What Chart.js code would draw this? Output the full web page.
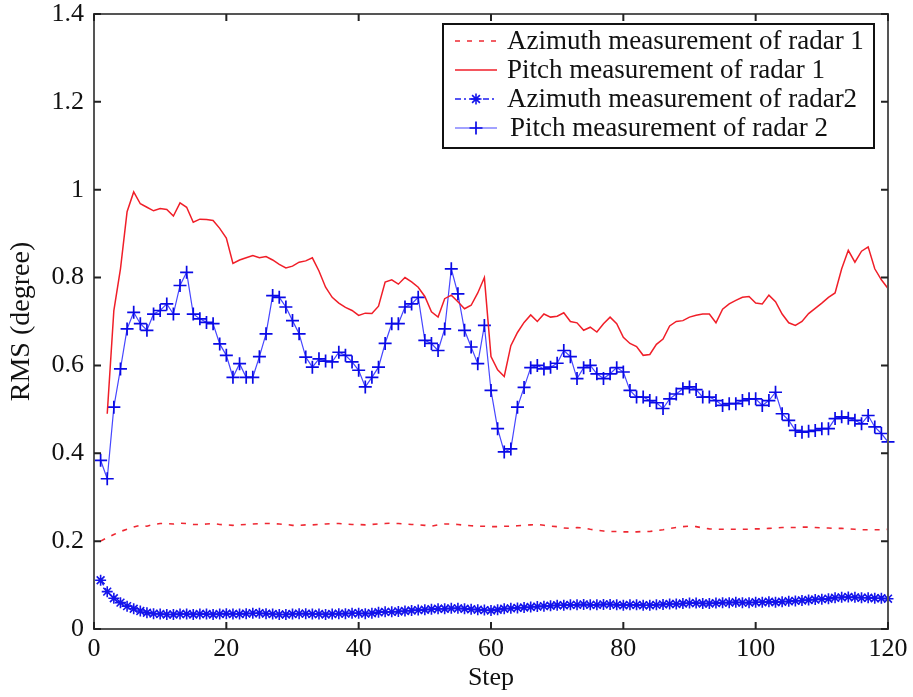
<!DOCTYPE html>
<html><head><meta charset="utf-8">
<script src="https://cdn.jsdelivr.net/npm/chart.js@4.4.0/dist/chart.umd.min.js"></script>
<style>html,body{margin:0;padding:0;background:#fff;overflow:hidden;}</style>
</head><body>
<canvas id="c" width="913" height="697"></canvas>
<script>
const steps = [1,2,3,4,5,6,7,8,9,10,11,12,13,14,15,16,17,18,19,20,
21,22,23,24,25,26,27,28,29,30,31,32,33,34,35,36,37,38,39,40,
41,42,43,44,45,46,47,48,49,50,51,52,53,54,55,56,57,58,59,60,
61,62,63,64,65,66,67,68,69,70,71,72,73,74,75,76,77,78,79,80,
81,82,83,84,85,86,87,88,89,90,91,92,93,94,95,96,97,98,99,100,
101,102,103,104,105,106,107,108,109,110,111,112,113,114,115,116,117,118,119,120];

const seriesNames = ['Azimuth measurement of radar 1','Pitch measurement of radar 1','Azimuth measurement of radar2','Pitch measurement of radar 2'];

const azimuthRadar1 = [0.200,0.208,0.215,0.222,0.227,0.232,0.236,0.234,0.238,0.240,0.240,0.239,0.241,0.240,0.238,0.238,0.239,0.240,0.238,0.237,
0.236,0.237,0.238,0.239,0.240,0.240,0.240,0.239,0.238,0.236,0.236,0.237,0.237,0.238,0.239,0.240,0.240,0.239,0.238,0.238,
0.237,0.238,0.239,0.240,0.241,0.240,0.239,0.238,0.237,0.236,0.234,0.237,0.239,0.239,0.238,0.236,0.235,0.234,0.234,0.233,
0.233,0.234,0.234,0.235,0.236,0.237,0.238,0.236,0.234,0.233,0.230,0.229,0.231,0.230,0.227,0.225,0.223,0.222,0.222,0.221,
0.221,0.221,0.222,0.222,0.224,0.226,0.229,0.231,0.233,0.234,0.233,0.230,0.228,0.227,0.227,0.227,0.227,0.227,0.227,0.228,
0.228,0.229,0.230,0.231,0.231,0.231,0.232,0.232,0.231,0.230,0.230,0.229,0.229,0.228,0.227,0.226,0.226,0.226,0.226,0.227];

const pitchRadar1 = [null,0.49,0.725,0.82,0.95,0.995,0.968,0.96,0.952,0.957,0.955,0.94,0.97,0.96,0.926,0.933,0.932,0.93,0.912,0.89,
0.832,0.84,0.845,0.85,0.845,0.848,0.84,0.83,0.822,0.826,0.835,0.838,0.845,0.815,0.778,0.755,0.742,0.732,0.725,0.714,
0.719,0.718,0.735,0.79,0.795,0.785,0.80,0.79,0.778,0.757,0.722,0.71,0.752,0.76,0.745,0.729,0.737,0.765,0.80,0.62,
0.59,0.575,0.645,0.675,0.698,0.715,0.70,0.717,0.71,0.712,0.72,0.70,0.697,0.68,0.687,0.676,0.695,0.71,0.695,0.664,
0.65,0.643,0.623,0.625,0.648,0.66,0.69,0.70,0.702,0.71,0.714,0.717,0.717,0.697,0.728,0.74,0.748,0.755,0.757,0.742,
0.74,0.76,0.745,0.717,0.697,0.691,0.70,0.718,0.73,0.742,0.755,0.765,0.82,0.862,0.835,0.86,0.87,0.82,0.795,0.775];

const azimuthRadar2 = [0.111,0.085,0.070,0.060,0.052,0.046,0.041,0.037,0.035,0.034,0.033,0.033,0.034,0.034,0.033,0.034,0.034,0.033,0.034,0.035,
0.034,0.034,0.035,0.036,0.036,0.035,0.034,0.033,0.033,0.034,0.035,0.035,0.034,0.034,0.033,0.034,0.035,0.035,0.036,0.036,
0.035,0.036,0.038,0.039,0.039,0.040,0.041,0.042,0.043,0.044,0.045,0.046,0.046,0.047,0.047,0.046,0.045,0.044,0.043,0.042,
0.044,0.046,0.047,0.048,0.049,0.050,0.051,0.052,0.053,0.054,0.054,0.055,0.055,0.056,0.055,0.055,0.056,0.056,0.055,0.054,
0.055,0.055,0.054,0.054,0.055,0.056,0.057,0.057,0.058,0.059,0.059,0.058,0.058,0.059,0.060,0.060,0.061,0.060,0.060,0.061,
0.061,0.062,0.061,0.062,0.063,0.064,0.065,0.066,0.067,0.068,0.069,0.071,0.072,0.073,0.072,0.071,0.071,0.070,0.070,0.069];

const pitchRadar2 = [0.384,0.342,0.505,0.592,0.683,0.721,0.695,0.68,0.717,0.725,0.74,0.717,0.782,0.812,0.717,0.706,0.698,0.695,0.649,0.623,
0.573,0.604,0.573,0.573,0.62,0.672,0.759,0.755,0.733,0.702,0.672,0.619,0.596,0.615,0.61,0.608,0.63,0.623,0.608,0.589,
0.551,0.573,0.596,0.65,0.695,0.695,0.733,0.74,0.755,0.657,0.65,0.634,0.683,0.82,0.763,0.68,0.642,0.604,0.691,0.543,
0.456,0.403,0.41,0.505,0.55,0.595,0.60,0.592,0.596,0.605,0.634,0.62,0.57,0.595,0.60,0.581,0.57,0.581,0.595,0.585,
0.543,0.528,0.528,0.52,0.515,0.502,0.524,0.535,0.547,0.551,0.545,0.528,0.528,0.52,0.509,0.513,0.513,0.52,0.524,0.524,
0.509,0.52,0.539,0.49,0.475,0.452,0.448,0.45,0.452,0.456,0.456,0.479,0.483,0.48,0.475,0.467,0.486,0.46,0.445,0.426];

const xTicks = [0,20,40,60,80,100,120];
const yTicks = [0,0.2,0.4,0.6,0.8,1,1.2,1.4];

const toXY = arr => steps.map((s,i) => ({x:s, y:arr[i]}));
const FONT = 'Liberation Serif, "Times New Roman", serif';

const frameTicks = {
  id:'frameTicks',
  afterDatasetsDraw(chart){
    const {ctx, chartArea:a, scales:{x,y}} = chart;
    ctx.save();
    ctx.strokeStyle = '#555';
    ctx.lineWidth = 2;
    ctx.strokeRect(a.left, a.top, a.right-a.left, a.bottom-a.top);
    ctx.strokeStyle = '#222';
    ctx.lineWidth = 2;
    ctx.beginPath();
    for (const t of x.ticks){
      const p = x.getPixelForValue(t.value);
      ctx.moveTo(p, a.bottom); ctx.lineTo(p, a.bottom-7);
      ctx.moveTo(p, a.top); ctx.lineTo(p, a.top+7);
    }
    for (const t of y.ticks){
      const p = y.getPixelForValue(t.value);
      ctx.moveTo(a.left, p); ctx.lineTo(a.left+7, p);
      ctx.moveTo(a.right, p); ctx.lineTo(a.right-7, p);
    }
    ctx.stroke();
    ctx.restore();
  }
};

function drawMarker(ctx, style, cx, cy, r){
  ctx.beginPath();
  if (style === 'cross' || style === 'star'){
    ctx.moveTo(cx-r, cy); ctx.lineTo(cx+r, cy);
    ctx.moveTo(cx, cy-r); ctx.lineTo(cx, cy+r);
  }
  if (style === 'star' || style === 'crossRot'){
    const d = r*0.7071;
    ctx.moveTo(cx-d, cy-d); ctx.lineTo(cx+d, cy+d);
    ctx.moveTo(cx-d, cy+d); ctx.lineTo(cx+d, cy-d);
  }
  ctx.stroke();
}

const insideLegend = {
  id:'insideLegend',
  afterDraw(chart){
    const {ctx, chartArea:a} = chart;
    const bx = a.right - 445, by = a.top + 10, bw = 431, bh = 124;
    ctx.save();
    ctx.fillStyle = '#fff';
    ctx.fillRect(bx, by, bw, bh);
    ctx.strokeStyle = '#111';
    ctx.lineWidth = 2;
    ctx.strokeRect(bx, by, bw, bh);
    ctx.font = '27px ' + FONT;
    ctx.textBaseline = 'middle';
    ctx.fillStyle = '#111';
    chart.data.datasets.forEach((ds, i) => {
      const cy = by + 17 + i*29;
      ctx.strokeStyle = ds.borderColor;
      ctx.lineWidth = ds.borderWidth;
      ctx.setLineDash(ds.borderDash || []);
      ctx.beginPath();
      ctx.moveTo(bx+12, cy); ctx.lineTo(bx+54, cy);
      ctx.stroke();
      ctx.setLineDash([]);
      if (ds.pointRadius > 0){
        ctx.strokeStyle = ds.pointBorderColor;
        ctx.lineWidth = ds.pointBorderWidth;
        drawMarker(ctx, ds.pointStyle, bx+33, cy, ds.pointRadius);
      }
      ctx.fillStyle = '#111';
      ctx.fillText(ds.label, bx + 64 + (i===3?3:0), cy + 1);
    });
    ctx.restore();
  }
};

new Chart(document.getElementById('c'), {
  type:'line',
  data:{
    datasets:[
      {label:seriesNames[0], data:toXY(azimuthRadar1), borderColor:'rgb(238,40,50)', borderWidth:1.6, borderDash:[5,7], pointRadius:0, tension:0, clip:false},
      {label:seriesNames[1], data:toXY(pitchRadar1), borderColor:'rgb(240,30,40)', borderWidth:1.5, pointRadius:0, tension:0, clip:false},
      {label:seriesNames[2], data:toXY(azimuthRadar2), borderColor:'rgb(30,30,240)', borderWidth:1.4, borderDash:[6,3,2,3], pointStyle:'star', pointRadius:5.5, pointBorderColor:'rgb(20,20,235)', pointBackgroundColor:'rgba(0,0,0,0)', pointBorderWidth:1.6, tension:0, clip:false},
      {label:seriesNames[3], data:toXY(pitchRadar2), borderColor:'rgb(70,70,255)', borderWidth:1.2, pointStyle:'cross', pointRadius:6.5, pointBorderColor:'rgb(10,10,230)', pointBackgroundColor:'rgba(0,0,0,0)', pointBorderWidth:1.7, tension:0, clip:false}
    ]
  },
  options:{
    responsive:false,
    devicePixelRatio:1,
    animation:false,
    events:[],
    layout:{padding:{left:0, right:25, top:14, bottom:0}},
    plugins:{legend:{display:false}, tooltip:{enabled:false}},
    scales:{
      x:{
        type:'linear', min:0, max:120,
        afterBuildTicks: s => { s.ticks = xTicks.map(v => ({value:v})); },
        afterFit: s => { s.height = 68; s.paddingLeft = 0; s.paddingRight = 0; },
        grid:{display:false, drawTicks:false},
        border:{display:false},
        ticks:{padding:5, color:'#111', font:{family:FONT, size:26}, maxRotation:0, callback:v => String(v)},
        title:{display:true, text:'Step', color:'#111', font:{family:FONT, size:26}, padding:{top:0, bottom:3}}
      },
      y:{
        type:'linear', min:0, max:1.4,
        afterBuildTicks: s => { s.ticks = yTicks.map(v => ({value:v})); },
        afterFit: s => { s.width = 94; s.paddingTop = 0; s.paddingBottom = 0; },
        grid:{display:false, drawTicks:false},
        border:{display:false},
        ticks:{padding:10, color:'#111', font:{family:FONT, size:26}, callback:v => String(Math.round(v*10)/10)},
        title:{display:true, text:'RMS (degree)', color:'#111', font:{family:FONT, size:28}, padding:{top:5, bottom:0}}
      }
    }
  },
  plugins:[frameTicks, insideLegend]
});
</script>
</body></html>
